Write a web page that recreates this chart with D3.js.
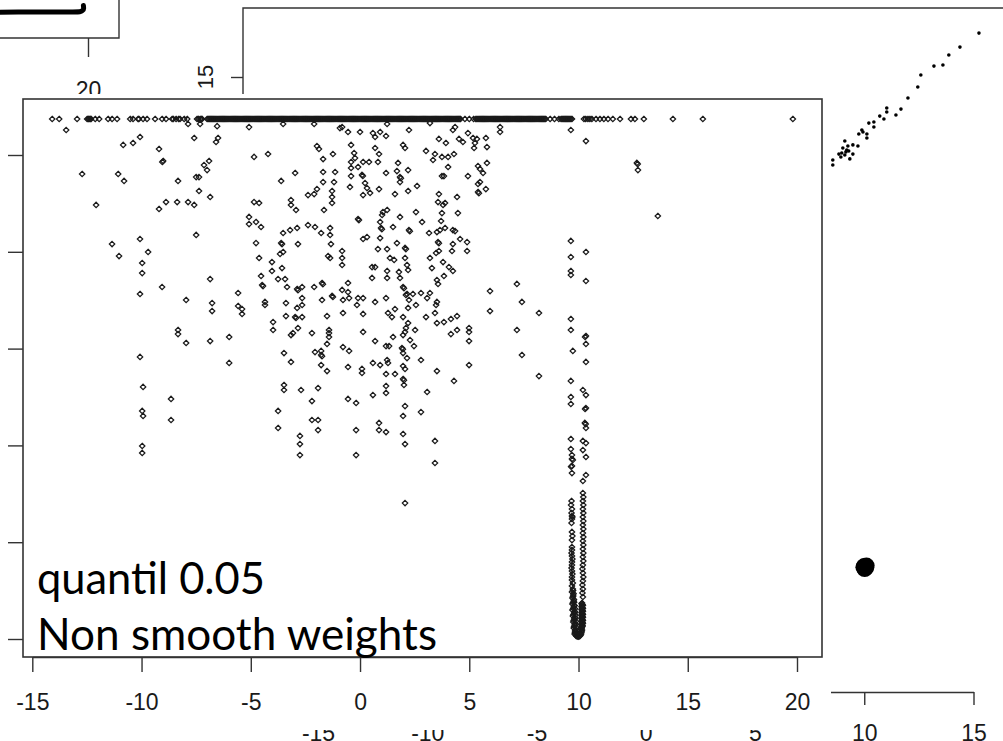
<!DOCTYPE html>
<html>
<head>
<meta charset="utf-8">
<script src="https://cdn.jsdelivr.net/npm/d3@7"></script>
<style>
  html, body { margin: 0; padding: 0; background: #fff; overflow: hidden; }
  svg { display: block; }
  .tick text { font-family: "Liberation Sans", Arial, sans-serif; fill: #1a1a1a; }
  .tick line, .domain { stroke: #333; stroke-width: 1.4; }
</style>
</head>
<body>
<svg id="fig" width="1003" height="741"></svg>
<script>
// ---------------- data ----------------
// small panel at the top left
const tlXTicks = [20];
const tlTrace = [[15.7, 15.99], [16.8, 16.0], [18.0, 16.0], [19.3, 16.0], [19.62, 16.01],
                 [19.74, 16.06], [19.8, 16.16], [19.79, 16.3]];

// panel behind the main plot
const bgXTicks = [-15, -10, -5, 0, 5, 10, 15, 20];
const bgYTicks = [15, 10, 5, 0, -5, -10];
const bgPoints = [
  [15.25, 17.01], [14.38, 16.37], [13.87, 16.01], [13.19, 15.50], [13.60, 15.55], [12.59, 15.09],
  [12.45, 14.54], [12.00, 14.04], [11.68, 13.53], [11.45, 13.26], [11.03, 13.58], [11.03, 13.40],
  [10.71, 13.21], [10.90, 13.08], [10.44, 12.94], [10.44, 12.71], [10.21, 12.89], [10.12, 12.39],
  [10.12, 12.21], [9.89, 12.57], [9.75, 12.39], [9.94, 12.48], [9.71, 11.84], [9.48, 11.89],
  [9.48, 11.47], [9.11, 12.07], [9.20, 11.66], [9.02, 11.75], [8.97, 11.52], [8.84, 11.47],
  [8.93, 11.34], [9.34, 11.25], [9.29, 11.61], [9.25, 11.84], [9.11, 11.43], [8.56, 11.20],
  [8.56, 10.97], [9.16, 11.57], [8.2, 10.6], [7.6, 10.0], [6.9, 9.4], [6.0, 8.5]
];
const bgCluster = [[10.0, -7.40], [10.08, -7.46], [10.02, -7.52], [9.97, -7.45], [10.1, -7.38]];

// main plot
const xTicksMain = [-15, -10, -5, 0, 5, 10, 15, 20];
const yTicksMain = [0, 5, 10, 15, 20, 25];
const capValue = 26.86;   // upper bound reached by the capped observations
const capRowX = [
  -14.09, -13.77, -12.95, -12.49, -12.44, -12.40, -12.35, -12.31, -12.12, -11.94, -11.53, -11.35, -11.12,
  -10.52, -10.39, -10.16, -10.12, -9.93, -9.75, -9.38, -9.06, -8.88, -8.60, -8.55, -8.42, -8.30, -8.24,
  -8.05, -7.91, -7.46, -7.40, -7.32, -7.27, -7.23,
  -7.0, -6.9, -6.8, -6.7, -6.6, -6.5, -6.4, -6.3, -6.2, -6.1, -6.0, -5.9, -5.8, -5.7, -5.6, -5.5,
  -5.4, -5.3, -5.2, -5.1, -5.0, -4.9, -4.8, -4.7, -4.6, -4.5, -4.4, -4.3, -4.2, -4.1, -4.0, -3.9,
  -3.8, -3.7, -3.6, -3.5, -3.4, -3.3, -3.2, -3.1, -3.0, -2.9, -2.8, -2.7, -2.6, -2.5, -2.4, -2.3,
  -2.2, -2.1, -2.0, -1.9, -1.8, -1.7, -1.6, -1.5, -1.4, -1.3, -1.2, -1.1, -1.0, -0.9, -0.8, -0.7,
  -0.6, -0.5, -0.4, -0.3, -0.2, -0.1, 0.0, 0.1, 0.2, 0.3, 0.4, 0.5, 0.6, 0.7, 0.8, 0.9, 1.0, 1.1,
  1.2, 1.3, 1.4, 1.5, 1.6, 1.7, 1.8, 1.9, 2.0, 2.1, 2.2, 2.3, 2.4, 2.5, 2.6, 2.7, 2.8, 2.9, 3.0,
  3.1, 3.2, 3.3, 3.4, 3.5, 3.6, 3.7, 3.8, 3.9, 4.0, 4.1, 4.2, 4.3, 4.4, 4.5, 4.6, 4.8, 5.0, 5.2,
  5.3, 5.4, 5.5, 5.6, 5.7, 5.8, 5.9, 6.0, 6.1, 6.2, 6.3, 6.4, 6.5, 6.6, 6.7, 6.8, 6.9, 7.0, 7.1,
  7.2, 7.3, 7.4, 7.5, 7.6, 7.7, 7.8, 7.9, 8.0, 8.1, 8.2, 8.3, 8.4, 8.5, 8.7, 8.9, 9.1, 9.2, 9.3,
  9.4, 9.5, 9.6, 9.7,
  -6.95, -6.85, -6.75, -6.65, -6.55, -6.45, -6.35, -6.25, -6.15, -6.05, -5.95, -5.85, -5.75, -5.65,
  -5.55, -5.45, -5.35, -5.25, -5.15, -5.05, -4.95, -4.85, -4.75, -4.65, -4.55, -4.45, -4.35, -4.25,
  -4.15, -4.05, -3.95, -3.85, -3.75, -3.65, -3.55, -3.45, -3.35, -3.25, -3.15, -3.05, -2.95, -2.85,
  -2.75, -2.65, -2.55, -2.45, -2.35, -2.25, -2.15, -2.05, -1.95, -1.85, -1.75, -1.65, -1.55, -1.45,
  -1.35, -1.25, -1.15, -1.05, -0.95, -0.85, -0.75, -0.65, -0.55, -0.45, -0.35, -0.25, -0.15, -0.05,
  0.05, 0.15, 0.25, 0.35, 0.45, 0.55, 0.65, 0.75, 0.85, 0.95, 1.05, 1.15, 1.25, 1.35, 1.45, 1.55,
  1.65, 1.75, 1.85, 1.95, 2.05, 2.15, 2.25, 2.35, 2.45, 2.55, 2.65, 2.75, 2.85, 2.95, 3.05, 3.15,
  3.25, 3.35, 3.45, 3.55, 3.65, 3.75, 3.85, 3.95, 4.05, 4.15, 4.25, 4.35, 4.45, 4.55, 5.35, 5.45,
  5.55, 5.65, 5.75, 5.85, 5.95, 6.05, 6.15, 6.25, 6.35, 6.45, 6.55, 6.65, 6.75, 6.85, 6.95, 7.05,
  7.15, 7.25, 7.35, 7.45, 7.55, 7.65, 7.75, 7.85, 7.95, 8.05, 8.15, 8.25, 8.35, 8.45, 9.25, 9.35,
  9.45, 9.55, 9.65,
  10.25, 10.33, 10.43, 10.52, 10.61, 10.80, 10.98, 11.16, 11.35, 11.57, 11.90, 12.40, 12.58, 12.99,
  14.32, 15.69, 19.81
];
const cloudPts = [
  [-13.45, 26.29], [-7.87, 26.60], [-7.32, 26.60], [-6.54, 26.49], [-5.08, 26.44], [-3.52, 26.60],
  [-2.10, 26.60], [-0.82, 26.44], [-0.92, 26.39], [-0.55, 26.19], [0.00, 26.19], [0.59, 26.13],
  [0.69, 25.93], [0.92, 26.19], [1.19, 25.98], [1.24, 26.60], [2.24, 26.29], [-10.07, 25.93],
  [-10.39, 25.62], [-10.84, 25.52], [-7.59, 25.88], [-6.50, 25.88], [-6.59, 25.67], [-9.20, 25.31],
  [-9.01, 24.69], [-9.05, 24.64], [-1.97, 25.46], [-1.88, 25.31], [-1.69, 24.79], [-1.24, 25.05],
  [-0.41, 25.52], [-0.27, 25.10], [-0.23, 24.84], [0.69, 25.36], [0.87, 25.05], [1.97, 25.52],
  [2.06, 25.36], [-4.85, 24.90], [-4.21, 25.05], [-6.91, 24.69], [-7.14, 24.48], [-7.00, 24.22],
  [-7.50, 23.86], [-7.37, 23.86], [-8.33, 23.66], [-7.37, 23.14], [-6.86, 22.83], [-12.72, 24.02],
  [-11.07, 24.02], [-10.80, 23.66], [-12.08, 22.42], [-9.20, 22.21], [-8.88, 22.57], [-8.37, 22.57],
  [-7.87, 22.57], [-7.59, 22.42], [-3.61, 23.66], [-2.97, 24.07], [-1.69, 24.12], [-1.14, 24.12],
  [-0.41, 24.64], [-0.41, 24.33], [-0.09, 24.38], [0.14, 24.64], [0.41, 24.64], [0.82, 24.64],
  [0.09, 23.97], [0.13, 23.92], [-0.41, 23.91], [-0.46, 23.35], [0.23, 23.55], [0.32, 23.29],
  [0.46, 23.04], [0.14, 22.93], [0.87, 23.24], [1.19, 24.07], [1.74, 24.59], [1.69, 24.17],
  [1.83, 23.86], [1.87, 23.80], [1.83, 23.60], [2.20, 24.22], [2.61, 23.40], [2.20, 23.14],
  [1.60, 22.98], [-1.69, 23.60], [-1.19, 23.60], [-1.28, 23.14], [-1.97, 23.24], [-2.10, 22.98],
  [-2.38, 22.93], [-1.28, 22.83], [-1.28, 22.52], [-1.65, 22.16], [-4.85, 22.57], [-4.62, 22.52],
  [-3.16, 22.67], [-3.16, 22.42], [-2.93, 22.16], [-0.09, 21.69], [-0.05, 21.64], [1.05, 22.05],
  [1.24, 22.16], [1.01, 21.90], [1.83, 21.80], [2.56, 22.05], [0.96, 21.23], [1.00, 21.17],
  [1.51, 21.28], [2.24, 21.12], [2.28, 21.06], [0.14, 20.66], [0.32, 20.76], [0.92, 21.54],
  [0.92, 20.71], [-5.08, 21.80], [-5.08, 21.43], [-4.76, 21.54], [-4.53, 21.28], [-3.52, 20.97],
  [-3.61, 20.45], [-3.57, 20.40], [-3.20, 21.12], [-2.88, 21.23], [-2.38, 21.38], [-2.06, 21.28],
  [-1.78, 20.97], [-1.37, 21.23], [-1.37, 20.87], [-1.33, 20.40], [-7.50, 20.87], [-10.07, 20.66],
  [-11.35, 20.40], [-9.70, 19.99], [-11.03, 19.78], [-9.97, 19.42], [-9.97, 18.90], [-4.76, 20.45],
  [-2.84, 20.40], [-0.82, 20.04], [-0.82, 19.68], [-1.46, 19.78], [-1.37, 19.68], [-0.82, 19.32],
  [0.82, 20.14], [1.24, 20.14], [1.37, 19.68], [1.69, 20.45], [2.06, 20.20], [2.10, 20.14],
  [1.56, 19.58], [2.06, 19.68], [2.15, 19.32], [2.20, 19.06], [1.78, 18.96], [1.83, 18.65],
  [1.24, 19.01], [0.55, 19.21], [0.69, 19.21], [0.55, 18.65], [1.24, 18.65], [-4.62, 19.68],
  [-4.03, 19.47], [-4.03, 19.01], [-3.57, 19.16], [-3.66, 19.89], [-3.52, 19.99], [-6.86, 18.59],
  [-9.06, 18.18], [-10.07, 17.82], [-5.58, 17.87], [-4.53, 18.75], [-3.75, 18.59], [-3.43, 18.59],
  [-4.48, 18.28], [-4.44, 18.23], [-3.34, 18.18], [-2.88, 18.08], [-2.84, 18.02], [-2.65, 18.18],
  [-2.10, 18.18], [-1.74, 18.39], [-1.70, 18.33], [-0.82, 18.03], [-0.55, 17.92], [-0.55, 18.39],
  [1.97, 18.18], [2.01, 18.12], [2.15, 17.82], [2.42, 17.82],
  [-7.96, 17.51], [-6.77, 17.35], [-6.77, 16.94], [-5.58, 17.20], [-5.40, 17.04], [-5.40, 16.79],
  [-4.35, 17.41], [-4.35, 17.25], [-3.39, 17.35], [-2.65, 17.61], [-2.65, 17.25], [-2.88, 17.10],
  [-2.97, 16.63], [-2.93, 16.58], [-3.39, 16.68], [-2.65, 16.63], [-1.74, 17.51], [-1.28, 17.72],
  [-1.24, 17.67], [-0.78, 17.51], [-0.50, 17.61], [-0.14, 17.25], [-0.09, 17.61], [0.14, 17.61],
  [0.69, 17.41], [1.19, 17.61], [-0.78, 16.84], [0.14, 16.79], [-1.51, 16.68], [2.10, 17.77],
  [2.24, 17.51], [2.20, 17.10], [1.97, 16.63], [1.28, 16.84], [1.46, 16.63], [1.60, 17.04],
  [2.56, 17.25], [-3.98, 16.37], [-3.98, 15.96], [-2.84, 16.06], [-3.07, 15.80], [-3.16, 15.70],
  [-2.20, 15.80], [-1.42, 15.96], [-1.42, 15.80], [-1.42, 15.60], [-1.51, 15.24], [0.14, 15.86],
  [-8.33, 15.96], [-8.33, 15.75], [-7.96, 15.29], [-6.86, 15.39], [-5.99, 15.60], [2.20, 16.32],
  [2.10, 16.06], [2.06, 15.86], [1.97, 15.70], [2.52, 15.96], [2.29, 15.44], [2.47, 15.13],
  [1.51, 15.60], [0.69, 15.39], [1.19, 15.13], [1.33, 15.13], [1.92, 15.03], [1.96, 14.97],
  [1.97, 14.77], [2.15, 14.51], [1.24, 14.41], [1.28, 14.26], [0.92, 14.15], [0.59, 14.26],
  [1.97, 14.10], [2.06, 13.95], [0.09, 13.95], [0.09, 13.74], [1.19, 13.69], [1.60, 13.69],
  [1.97, 13.43], [2.01, 13.37], [2.01, 13.12], [1.19, 13.07], [1.19, 12.71], [0.59, 12.60],
  [-0.78, 15.08], [-0.50, 14.88], [-0.55, 14.05], [-3.48, 14.77], [-3.16, 14.31], [-2.06, 14.82],
  [-1.78, 14.88], [-1.78, 14.67], [-1.74, 14.61], [-1.78, 14.15], [-1.51, 13.84], [-10.07, 14.57],
  [-5.99, 14.26], [-3.48, 13.12], [-3.48, 12.86], [-2.70, 12.86], [-1.92, 12.96], [-2.20, 12.29],
  [-0.55, 12.40], [-0.18, 12.19], [-9.93, 13.02], [-8.65, 12.40], [-9.97, 11.78], [-9.93, 11.52],
  [-8.65, 11.31], [-3.75, 11.78], [-3.75, 10.90], [-2.20, 11.31], [-1.92, 11.31], [-1.92, 10.79],
  [-2.75, 10.49], [-2.75, 10.07], [-2.75, 9.50], [-0.18, 10.79], [-0.18, 9.50], [0.87, 11.16],
  [0.87, 10.79], [1.19, 10.69], [2.06, 12.03], [1.97, 11.52], [1.97, 10.59], [2.06, 10.07],
  [-9.97, 9.97], [-9.97, 9.61],
  [2.79, 17.87], [3.20, 17.87], [3.07, 17.61], [5.95, 17.97], [3.52, 17.41], [3.48, 17.25],
  [7.41, 17.41], [5.95, 16.94], [8.19, 16.84], [3.43, 16.84], [3.02, 16.63], [3.84, 16.37],
  [4.16, 16.53], [4.44, 16.68], [3.52, 16.32], [9.65, 16.53], [4.16, 15.75], [4.44, 15.96],
  [4.99, 16.06], [4.99, 15.86], [4.99, 15.39], [7.18, 15.96], [9.65, 15.96], [10.34, 15.65],
  [10.30, 15.60], [10.34, 15.24], [9.74, 14.88], [10.34, 14.31], [7.41, 14.67], [2.79, 14.41],
  [3.52, 13.84], [4.99, 14.15], [4.30, 13.33], [8.19, 13.58], [9.65, 13.33], [3.07, 12.76],
  [9.65, 12.50], [9.65, 12.14], [10.20, 12.86], [10.34, 12.60], [10.34, 11.93], [10.30, 11.88],
  [10.29, 11.16], [10.33, 11.10], [10.34, 10.90], [2.79, 11.72], [3.43, 10.23], [3.43, 9.09],
  [9.65, 10.33], [9.65, 9.81], [9.70, 9.50], [9.70, 9.30], [9.74, 9.25], [9.70, 8.94], [9.66, 8.90],
  [9.70, 8.57], [10.20, 10.23], [10.34, 10.12], [10.20, 9.76], [10.34, 9.40], [10.34, 8.47],
  [10.20, 8.16],
  [3.20, 26.65], [4.35, 26.44], [4.25, 26.29], [6.41, 26.44], [6.41, 26.19], [9.65, 26.29],
  [10.34, 25.72], [3.61, 25.83], [3.93, 25.62], [4.53, 25.83], [4.71, 25.67], [4.94, 26.13],
  [5.17, 25.88], [5.35, 25.83], [5.26, 25.62], [5.22, 25.36], [5.76, 25.88], [5.81, 25.41],
  [3.02, 25.21], [3.43, 25.05], [3.34, 24.74], [3.75, 24.90], [4.03, 24.90], [4.30, 25.05],
  [4.03, 24.38], [5.40, 24.43], [5.49, 24.28], [5.63, 24.07], [5.81, 24.59], [3.75, 23.91],
  [3.84, 23.91], [4.94, 23.91], [5.49, 23.60], [5.40, 23.50], [5.40, 23.09], [5.44, 23.03],
  [5.76, 23.24], [3.61, 22.98], [4.44, 22.83], [3.57, 22.57], [3.89, 22.52], [3.80, 22.42],
  [4.48, 22.00], [3.75, 22.00], [3.71, 21.59], [2.84, 21.54], [3.16, 20.97], [3.52, 21.02],
  [3.66, 21.12], [3.89, 21.23], [4.25, 21.12], [4.35, 21.07], [4.58, 20.66], [4.90, 20.50],
  [3.57, 20.50], [3.61, 20.44], [3.61, 20.04], [4.25, 20.40], [4.21, 20.04], [4.90, 20.04],
  [3.20, 19.68], [3.29, 19.16], [3.48, 19.94], [3.80, 19.47], [4.07, 19.21], [4.25, 19.01],
  [3.84, 18.75], [3.52, 18.54], [3.57, 18.34], [7.18, 18.34], [9.65, 20.56], [9.65, 19.73],
  [9.65, 19.01], [9.65, 18.80], [10.34, 19.99], [10.34, 18.49], [12.67, 24.59], [12.71, 24.53],
  [12.72, 24.22], [13.63, 21.85], [2.06, 7.02]
];
const columnPts = [
  [9.68, 7.13], [9.66, 6.92], [9.70, 6.71], [9.68, 6.51], [9.70, 6.35], [9.72, 6.30], [9.70, 6.20],
  [9.68, 5.99], [9.70, 5.53], [9.72, 5.32], [9.70, 5.11], [9.70, 4.75], [9.70, 4.60], [9.68, 4.44],
  [9.70, 4.29], [9.72, 4.13], [9.70, 3.98], [9.70, 3.82], [9.68, 3.67], [9.70, 3.51], [9.72, 3.36],
  [9.70, 3.20], [9.70, 3.05], [9.74, 2.89], [9.70, 2.74], [9.74, 2.58], [9.70, 2.43], [9.76, 2.27],
  [9.72, 2.12], [9.78, 1.96], [9.72, 1.81], [9.78, 1.65], [9.72, 1.50], [9.80, 1.34], [9.74, 1.19],
  [9.80, 1.03], [9.76, 0.88], [9.82, 0.72], [9.78, 0.57], [9.84, 0.41], [9.82, 0.26], [9.90, 0.15],
  [9.98, 0.12], [10.06, 0.15], [10.12, 0.26],
  [9.80, 1.90], [9.82, 1.72], [9.84, 1.56], [9.84, 1.40], [9.86, 1.24], [9.86, 1.08], [9.88, 0.92],
  [9.88, 0.76], [9.90, 0.60], [9.92, 0.44], [9.94, 0.30],
  [9.75, 2.50], [9.77, 2.35], [9.75, 2.20], [9.79, 2.04], [9.75, 1.88], [9.81, 1.73], [9.76, 1.58],
  [9.82, 1.42], [9.77, 1.27], [9.83, 1.11], [9.78, 0.96], [9.84, 0.80], [9.80, 0.65], [9.86, 0.49],
  [9.84, 0.34], [9.88, 0.20], [9.95, 0.14], [10.02, 0.13], [10.09, 0.20],
  [10.20, 7.54], [10.22, 7.33], [10.20, 7.13], [10.22, 6.92], [10.20, 6.71], [10.22, 6.51],
  [10.20, 6.30], [10.22, 6.09], [10.20, 5.89], [10.22, 5.68], [10.20, 5.47], [10.22, 5.27],
  [10.20, 5.06], [10.22, 4.86], [10.20, 4.65], [10.22, 4.44], [10.20, 4.24], [10.22, 4.03],
  [10.20, 3.82], [10.18, 3.62], [10.20, 3.41], [10.22, 3.20], [10.20, 3.00], [10.18, 2.79],
  [10.20, 2.58], [10.18, 2.38], [10.20, 2.17], [10.16, 1.86], [10.18, 1.78], [10.16, 1.70],
  [10.18, 1.62], [10.16, 1.55], [10.18, 1.47], [10.16, 1.39], [10.18, 1.31], [10.16, 1.24],
  [10.18, 1.16], [10.16, 1.08], [10.18, 1.00], [10.16, 0.93], [10.18, 0.85], [10.16, 0.77],
  [10.18, 0.70], [10.16, 0.62], [10.14, 0.54], [10.16, 0.46],
  [10.14, 1.82], [10.20, 1.74], [10.14, 1.66], [10.20, 1.58], [10.14, 1.51], [10.20, 1.43],
  [10.14, 1.35], [10.20, 1.27], [10.14, 1.20], [10.20, 1.12], [10.14, 1.04], [10.20, 0.96],
  [10.14, 0.89], [10.20, 0.81], [10.13, 0.73], [10.18, 0.66], [10.12, 0.58], [10.14, 0.40],
  [10.13, 0.33]
];
const captionLines = ["quantil 0.05", "Non smooth weights"];

// ---------------- drawing ----------------
const plain = d => String(d);          // hyphen-minus, no trailing decimals
const svg = d3.select("#fig");
svg.append("rect").attr("width", 1003).attr("height", 741).attr("fill", "#fff");

// --- top-left panel ---
const tl = svg.append("g");
const tx = d3.scaleLinear().domain([15, 20]).range([-21.2, 88]);
const ty = d3.scaleLinear().domain([16, 17]).range([12, -9.84]);
tl.append("path")
  .datum(tlTrace)
  .attr("d", d3.line().x(d => tx(d[0])).y(d => ty(d[1])).curve(d3.curveMonotoneY))
  .attr("fill", "none").attr("stroke", "#000").attr("stroke-width", 5)
  .attr("stroke-linecap", "round").attr("stroke-linejoin", "round");
tl.append("g").attr("transform", "translate(0,38)")
  .call(d3.axisBottom(tx).tickValues(tlXTicks).tickFormat(plain).tickSize(19).tickSizeOuter(0).tickPadding(25))
  .call(g => g.select(".domain").remove())
  .call(g => g.selectAll("text").style("font-size", "23px"));
tl.append("path").attr("d", "M-5,38H119V-5")
  .attr("fill", "none").attr("stroke", "#333").attr("stroke-width", 1.4);

// --- panel behind ---
const bg = svg.append("g");
bg.append("rect").attr("x", 170).attr("y", 0).attr("width", 833).attr("height", 741).attr("fill", "#fff");
const bx = d3.scaleLinear().domain([-15, 15]).range([318, 973.5]);
const by = d3.scaleLinear().domain([15, 10]).range([77, 186.2]);
bg.append("g").attr("transform", "translate(0,692)")
  .call(d3.axisBottom(bx).tickValues(bgXTicks).tickFormat(plain).tickSize(13).tickSizeOuter(0).tickPadding(20))
  .call(g => g.selectAll("text").style("font-size", "23px"));
bg.append("g").attr("transform", "translate(243,0)")
  .call(d3.axisLeft(by).tickValues(bgYTicks).tickSize(12).tickSizeOuter(0).tickFormat(""))
  .call(g => g.select(".domain").remove());
bg.selectAll("text.ylab").data(bgYTicks).join("text")
  .attr("class", "ylab")
  .attr("transform", d => `translate(213,${by(d)}) rotate(-90)`)
  .attr("text-anchor", "middle")
  .style("font-family", "'Liberation Sans', Arial, sans-serif").style("font-size", "22px")
  .attr("fill", "#1a1a1a")
  .text(plain);
bg.append("path").attr("d", "M243,692V8H1010")
  .attr("fill", "none").attr("stroke", "#333").attr("stroke-width", 1.4);
bg.selectAll("circle.pt").data(bgPoints).join("circle")
  .attr("class", "pt")
  .attr("cx", d => bx(d[0])).attr("cy", d => by(d[1])).attr("r", 1.8).attr("fill", "#000");
bg.selectAll("circle.cl").data(bgCluster).join("circle")
  .attr("class", "cl")
  .attr("cx", d => bx(d[0])).attr("cy", d => by(d[1])).attr("r", 8.2).attr("fill", "#000");

// --- main plot ---
const mg = svg.append("g");
mg.append("rect").attr("x", 0).attr("y", 94).attr("width", 831).attr("height", 636).attr("fill", "#fff");
const mx = d3.scaleLinear().domain([-15, 20]).range([32.3, 797]);
const my = d3.scaleLinear().domain([0, 25]).range([639, 155]);

mg.append("g").attr("transform", "translate(0,657)")
  .call(d3.axisBottom(mx).tickValues(xTicksMain).tickFormat(plain).tickSize(15).tickSizeOuter(0).tickPadding(22))
  .call(g => g.selectAll("text").style("font-size", "23px"));
mg.append("g").attr("transform", "translate(23,0)")
  .call(d3.axisLeft(my).tickValues(yTicksMain).tickFormat(plain).tickSize(15).tickSizeOuter(0).tickPadding(30))
  .call(g => g.select(".domain").remove())
  .call(g => g.selectAll("text").style("font-size", "23px"));
mg.append("rect").attr("x", 23).attr("y", 99).attr("width", 799).attr("height", 558)
  .attr("fill", "none").attr("stroke", "#333").attr("stroke-width", 1.6);

const diamond = "M0,-2.7L2.7,0L0,2.7L-2.7,0Z";
const pts = mg.append("g").attr("fill", "none").attr("stroke", "#1a1a1a").attr("stroke-width", 1.25);
pts.selectAll("path.cap").data(capRowX).join("path")
  .attr("class", "cap").attr("d", diamond)
  .attr("transform", d => `translate(${mx(d)},${my(capValue)})`);
pts.selectAll("path.cloud").data(cloudPts).join("path")
  .attr("class", "cloud").attr("d", diamond)
  .attr("transform", d => `translate(${mx(d[0])},${my(d[1])})`);
pts.selectAll("path.col").data(columnPts).join("path")
  .attr("class", "col").attr("d", diamond)
  .attr("transform", d => `translate(${mx(d[0])},${my(d[1])})`);

mg.selectAll("text.caption").data(captionLines).join("text")
  .attr("class", "caption")
  .attr("x", 37).attr("y", (d, i) => 594 + i * 56)
  .attr("textLength", (d, i) => i === 0 ? 228 : 400)
  .attr("lengthAdjust", "spacingAndGlyphs")
  .style("font-family", "Lato, 'Open Sans', sans-serif").style("font-size", "44px")
  .attr("fill", "#000")
  .text(d => d);
</script>
</body>
</html>
